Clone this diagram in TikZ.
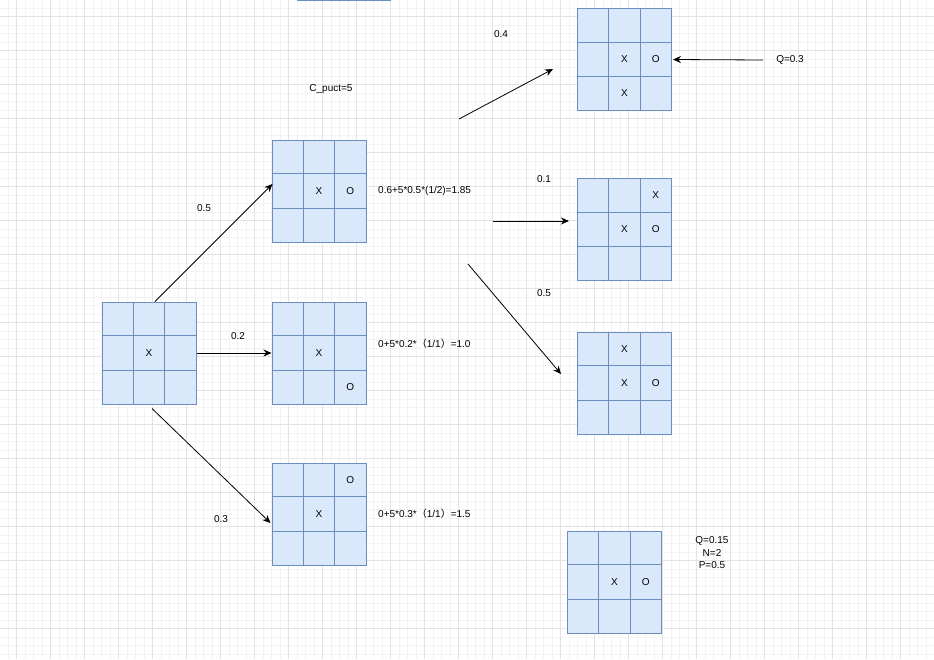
\documentclass[tikz,border=0pt]{standalone}
\usepackage{fontspec}
\setmainfont{Liberation Sans}
\newfontfamily\cjkfont{Noto Sans CJK SC}
\usetikzlibrary{arrows.meta,positioning,calc}
\definecolor{cellfill}{HTML}{DAE8FC}
\definecolor{celldraw}{HTML}{6C8EBF}
\definecolor{gridminor}{HTML}{F3F3F3}
\definecolor{gridmajor}{HTML}{E3E3E3}
% a 3x3 board: name, centre
\newcommand{\board}[2]{%
  \node[brd] (#1) at (#2) {};
  \foreach \f in {1,2} {
    \draw[cell] ($(#1.north west)!\f/3!(#1.north east)$) -- ($(#1.south west)!\f/3!(#1.south east)$);
    \draw[cell] ($(#1.north west)!\f/3!(#1.south west)$) -- ($(#1.north east)!\f/3!(#1.south east)$);
  }}
% a piece: board, column, row, letter
\newcommand{\piece}[4]{%
  \node[pc] (#1-#2#3) at ($(#1.center)+({(#2-2)*31.3},{(#3-2)*34})$) {#4};}
\newcommand{\fl}{{\cjkfont （}}
\newcommand{\fr}{{\cjkfont ）}}

\begin{document}
\begin{tikzpicture}[
  x=1pt, y=-1pt,
  font=\fontsize{10}{12.5}\selectfont,
  brd/.style={draw=celldraw, fill=cellfill, line width=1pt,
              minimum width=94pt, minimum height=102pt, inner sep=0pt},
  cell/.style={draw=celldraw, line width=1pt},
  pc/.style={inner sep=0pt, font=\fontsize{10}{12}\selectfont},
  a/.style={-{Stealth[length=8pt,width=7pt]}, line width=0.8pt},
  lbl/.style={inner sep=0pt}]

\useasboundingbox[fill=white] (0,0) rectangle (934,659);

% background grid
\foreach \i in {0,...,109} { \draw[gridminor, line width=0.8pt] ({8.2+8.5*\i},0) -- ({8.2+8.5*\i},659); }
\foreach \i in {0,...,77} { \draw[gridminor, line width=0.8pt] (0,{8.2+8.5*\i}) -- (934,{8.2+8.5*\i}); }
\foreach \i in {0,...,27} { \draw[gridmajor, line width=0.8pt] ({16.7+34*\i},0) -- ({16.7+34*\i},659); }
\foreach \i in {0,...,19} { \draw[gridmajor, line width=0.8pt] (0,{16.7+34*\i}) -- (934,{16.7+34*\i}); }

% edge of a box cut off at the top
\draw[cell] (297,0.5) -- (391,0.5);

\board{b0}{149,353}
\piece{b0}{2}{2}{X}

\board{b1}{319,191}
\piece{b1}{2}{2}{X}
\piece{b1}{3}{2}{O}

\board{b2}{319,353}
\piece{b2}{2}{2}{X}
\piece{b2}{3}{3}{O}

\board{b3}{319,514}
\piece{b3}{3}{1}{O}
\piece{b3}{2}{2}{X}

\board{b4}{624.5,59.5}
\piece{b4}{2}{2}{X}
\piece{b4}{3}{2}{O}
\piece{b4}{2}{3}{X}

\board{b5}{624.5,229.5}
\piece{b5}{3}{1}{X}
\piece{b5}{2}{2}{X}
\piece{b5}{3}{2}{O}

\board{b6}{624.5,383}
\piece{b6}{2}{1}{X}
\piece{b6}{2}{2}{X}
\piece{b6}{3}{2}{O}

\board{b7}{614.5,582}
\piece{b7}{2}{2}{X}
\piece{b7}{3}{2}{O}

% labels
\node[lbl] (cp) at (331,89) {C\_puct=5};
\node[lbl] (p1) at (204,208) {0.5};
\node[lbl] (p2) at (238,336) {0.2};
\node[lbl] (p3) at (221,519) {0.3};
\node[lbl] (p4) at (501,34) {0.4};
\node[lbl] (p5) at (544,179) {0.1};
\node[lbl] (p6) at (544,293) {0.5};
\node[lbl, anchor=west] (u1) at (378,191) {0.6+5*0.5*(1/2)=1.85};
\node[lbl, anchor=west] (u2) at (378,344) {0+5*0.2*\fl 1/1\fr =1.0};
\node[lbl, anchor=west] (u3) at (378,514) {0+5*0.3*\fl 1/1\fr =1.5};
\node[lbl, inner sep=3pt] (q1) at (790,60) {Q=0.3};
\node[lbl, align=center] (q2) at (712,553) {Q=0.15\\N=2\\P=0.5};

% free ends of the connectors
\coordinate (s4) at (459,119);
\coordinate (e4) at (553,69);
\coordinate (s5) at (493,221);
\coordinate (e5) at (569,221);
\coordinate (s6) at (468,264);
\coordinate (e6) at (561,374);

\draw[a] ($(b0.north)+(6,0)$) -- ($(b1.west)+(1,-7)$);
\draw[a] (b0.east) -- (b2.west);
\draw[a] ($(b0.south)+(3,4)$) -- ($(b3.west)+(-1,9)$);
\draw[a] (s4) -- (e4);
\draw[a] (s5) -- (e5);
\draw[a] (s6) -- (e6);
\draw[a] ($(q1.west)+(-10,0)$) -- ($(b4.east)+(1,0)$);
\end{tikzpicture}
\end{document}
